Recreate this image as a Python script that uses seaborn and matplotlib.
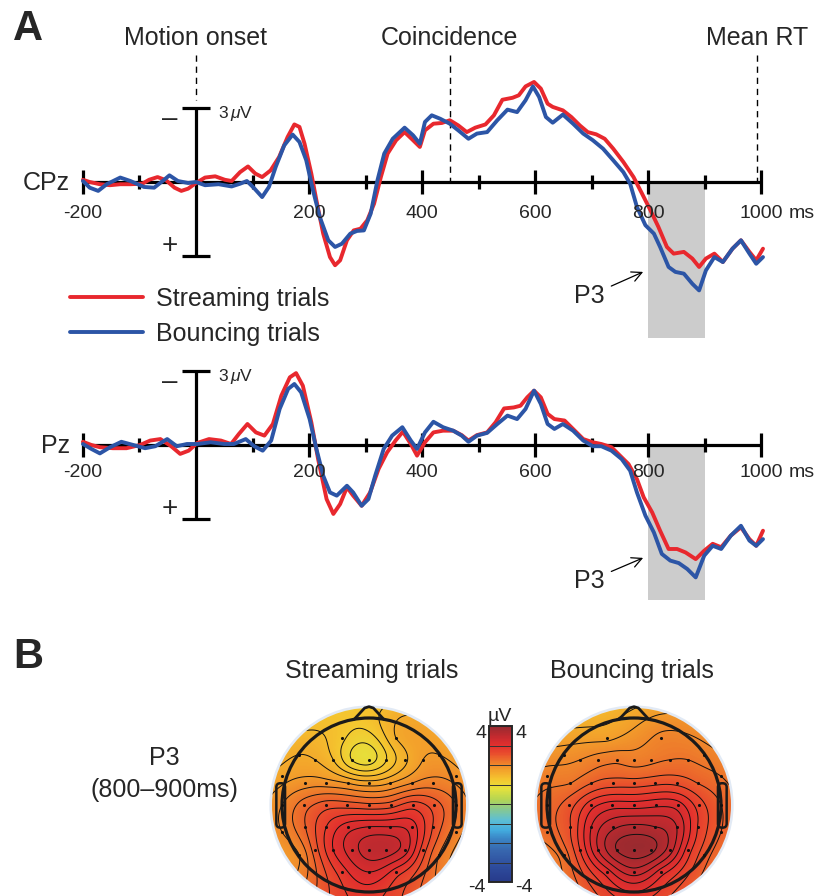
import numpy as np
import pandas as pd
import matplotlib.pyplot as plt
import seaborn as sns
from matplotlib.colors import LinearSegmentedColormap, Normalize
from matplotlib.cm import ScalarMappable
from matplotlib.patches import Circle, FancyBboxPatch

# ERP waveforms: time in ms, amplitude in uV (negative is drawn up)
cpz_stream_t = [-200, -188, -170, -152, -134, -116, -95, -83, -68, -53, -38, -26, -14, 0, 16, 34, 51, 63, 78, 92,
                105, 117, 132, 147, 162, 174, 183, 192, 204, 213, 225, 237, 246, 255, 267, 279, 291, 303, 315,
                327, 339, 354, 369, 384, 396, 405, 420, 435, 449, 464, 479, 494, 512, 527, 542, 560, 571, 583,
                598, 610, 622, 631, 649, 664, 679, 693, 708, 723, 738, 756, 774, 789, 804, 818, 833, 845, 863,
                878, 890, 902, 917, 932, 949, 964, 979, 991, 1003]
cpz_stream_v = [-0.09, 0, 0.09, 0.13, 0.09, 0.09, 0.07, -0.09, -0.2, -0.07, 0.23, 0.36, 0.27, 0.04, -0.18, -0.23,
                -0.09, -0.04, -0.4, -0.63, -0.34, -0.2, -0.47, -1.01, -1.82, -2.33, -2.23, -1.55, -0.34, 0.74,
                2.09, 3.04, 3.37, 3.17, 2.36, 1.96, 1.89, 1.55, 0.88, -0.2, -1.15, -1.69, -2.02, -1.69, -1.42,
                -2.09, -2.36, -2.39, -2.5, -2.29, -2.02, -2.2, -2.33, -2.7, -3.33, -3.41, -3.51, -3.87, -4.05,
                -3.78, -3.17, -3.04, -2.9, -2.63, -2.29, -2.02, -1.93, -1.75, -1.35, -0.81, -0.2, 0.47, 1.15,
                1.82, 2.63, 2.9, 2.83, 3.1, 3.44, 3.1, 2.9, 3.24, 2.7, 2.36, 2.83, 3.17, 2.7]
cpz_bounce_t = [-200, -188, -173, -158, -134, -116, -92, -74, -59, -47, -32, -14, 0, 16, 40, 63, 78, 90, 102, 117,
                129, 141, 156, 171, 183, 195, 207, 219, 234, 246, 258, 273, 285, 297, 309, 321, 333, 348, 369,
                384, 396, 405, 417, 432, 449, 464, 482, 497, 515, 533, 551, 568, 583, 596, 607, 619, 631, 649,
                667, 685, 702, 720, 738, 756, 768, 780, 795, 810, 821, 836, 848, 863, 878, 890, 902, 917, 932,
                949, 964, 979, 991, 1003]
cpz_bounce_v = [-0.04, 0.23, 0.36, 0.09, -0.18, -0.04, 0.2, 0.23, -0.04, -0.27, -0.04, 0.04, 0, 0.13, 0.09, 0.18,
                0.07, -0.04, 0.23, 0.61, 0.2, -0.61, -1.48, -1.92, -1.62, -0.88, 0.34, 1.42, 2.36, 2.63, 2.5,
                2.09, 1.98, 1.96, 1.28, -0.07, -1.15, -1.75, -2.2, -1.89, -1.55, -2.43, -2.7, -2.56, -2.36,
                -2.09, -1.75, -1.96, -2.02, -2.5, -2.93, -2.83, -3.31, -3.87, -3.44, -2.63, -2.4, -2.73, -2.36,
                -1.96, -1.69, -1.35, -0.88, -0.4, 0.07, 1.01, 1.75, 2.09, 2.63, 3.44, 3.64, 3.71, 4.12, 4.39,
                3.58, 3.04, 3.24, 2.7, 2.36, 2.9, 3.31, 3.04]
pz_stream_t = [-200, -185, -170, -147, -123, -99, -81, -63, -45, -28, -13, 2, 23, 44, 62, 76, 91, 106, 121, 136,
               151, 166, 177, 189, 204, 216, 231, 243, 255, 267, 278, 293, 308, 323, 338, 353, 366, 380, 391,
               405, 420, 437, 455, 470, 482, 497, 515, 530, 545, 562, 574, 586, 598, 610, 622, 634, 652, 667,
               685, 702, 717, 735, 750, 765, 780, 792, 807, 821, 836, 851, 866, 884, 899, 914, 929, 946, 964,
               979, 991, 1003]
pz_stream_v = [-0.13, 0, 0.09, 0.13, 0.13, 0, -0.18, -0.24, 0.03, 0.36, 0.23, -0.08, -0.24, -0.18, -0.04, -0.45,
               -0.85, -0.51, -0.38, -0.85, -2.0, -2.74, -2.91, -2.4, -0.92, 0.57, 2.19, 2.79, 2.39, 1.71, 2.05,
               2.46, 1.92, 0.97, 0.3, -0.18, -0.54, -0.04, 0.43, -0.11, -0.51, -0.58, -0.58, -0.4, -0.18, -0.4,
               -0.51, -0.92, -1.48, -1.52, -1.59, -1.93, -2.2, -1.93, -1.26, -1.05, -0.99, -0.65, -0.24, -0.11,
               -0.04, 0.09, 0.43, 0.77, 1.38, 2.12, 2.73, 3.47, 4.21, 4.21, 4.35, 4.62, 4.28, 4.0, 4.14, 3.67,
               3.33, 3.81, 4.08, 3.47]
pz_bounce_t = [-200, -185, -170, -152, -132, -111, -90, -72, -51, -34, -16, 2, 26, 50, 67, 88, 103, 118, 133, 148,
               163, 174, 186, 201, 213, 225, 237, 249, 258, 267, 278, 293, 305, 317, 332, 347, 365, 380, 391,
               405, 420, 437, 455, 470, 482, 497, 515, 533, 551, 568, 583, 598, 610, 622, 634, 649, 667, 685,
               702, 717, 735, 753, 768, 780, 795, 810, 824, 839, 854, 869, 884, 899, 914, 929, 946, 964, 979,
               991, 1003]
pz_bounce_v = [-0.04, 0.16, 0.34, 0.09, -0.13, 0, 0.13, 0.05, -0.24, 0.05, -0.04, -0.04, -0.11, -0.04, -0.04,
               -0.24, 0.05, 0.23, -0.18, -1.46, -2.27, -2.47, -2.13, -1.05, 0.16, 1.24, 1.92, 2.05, 1.85, 1.65,
               1.92, 2.46, 2.19, 1.24, 0.16, -0.38, -0.72, -0.18, 0.16, -0.51, -0.94, -0.72, -0.58, -0.38,
               -0.13, -0.38, -0.49, -0.85, -1.19, -1.05, -1.46, -2.2, -1.66, -0.85, -0.65, -0.85, -0.58, -0.18,
               0.05, 0.05, 0.23, 0.57, 1.04, 1.92, 2.86, 3.54, 4.41, 4.68, 4.78, 5.02, 5.36, 4.48, 4.08, 4.21,
               3.67, 3.27, 3.87, 4.08, 3.81]

conditions = ["Streaming trials", "Bouncing trials"]
major_ticks = [-200, 200, 400, 600, 800, 1000]
minor_ticks = [-100, 100, 300, 500, 700, 900]
events = ["Motion onset", "Coincidence", "Mean RT"]
event_ms = [0, 449, 992]

# electrode layout (x right, y towards nose) and mean P3 amplitude 800-900 ms, uV
elec_x = [-0.31, 0.31,
          -0.62, -0.41, -0.2, 0, 0.2, 0.41, 0.62,
          -0.73, -0.49, -0.24, 0, 0.24, 0.49, 0.73,
          -0.75, -0.5, -0.25, 0, 0.25, 0.5, 0.75,
          -0.73, -0.49, -0.24, 0, 0.24, 0.49, 0.73,
          -0.62, -0.41, -0.2, 0, 0.2, 0.41, 0.62,
          -0.31, 0, 0.31,
          -1.0, 1.0, -1.0, 1.0, -1.0, 1.0, -0.8, 0.8, -0.8, 0.8]
elec_y = [0.77, 0.77,
          0.52, 0.52, 0.52, 0.52, 0.52, 0.52, 0.52,
          0.25, 0.25, 0.25, 0.25, 0.25, 0.25, 0.25,
          0, 0, 0, 0, 0, 0, 0,
          -0.25, -0.25, -0.25, -0.25, -0.25, -0.25, -0.25,
          -0.52, -0.52, -0.52, -0.52, -0.52, -0.52, -0.52,
          -0.77, -0.77, -0.77,
          0.33, 0.33, 0, 0, -0.31, -0.31, 0.58, 0.58, -0.58, -0.58]
p3_stream = [1.25, 1.6,
             1.6, 1.4, 1.0, 0.9, 1.2, 1.55, 1.8,
             1.9, 1.9, 1.8, 1.7, 1.8, 2.0, 2.1,
             2.3, 2.5, 2.5, 2.45, 2.5, 2.7, 2.5,
             2.4, 2.8, 3.1, 3.2, 3.2, 3.1, 2.6,
             2.5, 3.0, 3.3, 3.5, 3.5, 3.3, 2.7,
             2.9, 3.2, 2.9,
             1.7, 1.9, 2.0, 2.2, 2.0, 2.1, 1.6, 1.8, 2.0, 2.2]
p3_bounce = [1.75, 2.05,
             2.0, 2.1, 2.15, 2.1, 2.15, 2.2, 2.2,
             2.2, 2.4, 2.5, 2.5, 2.55, 2.55, 2.4,
             2.5, 2.9, 3.1, 3.1, 3.15, 3.1, 2.7,
             2.6, 3.2, 3.55, 3.65, 3.6, 3.4, 2.8,
             2.8, 3.4, 3.8, 3.9, 3.85, 3.5, 2.9,
             3.1, 3.5, 3.1,
             2.1, 2.2, 2.3, 2.4, 2.3, 2.4, 1.9, 2.1, 2.3, 2.5]

RED = "#e8282e"
BLUE = "#2c55a6"

sns.set_style("white")
plt.rcParams["font.family"] = ["Liberation Sans", "DejaVu Sans"]
plt.rcParams["mathtext.fontset"] = "custom"
plt.rcParams["mathtext.rm"] = "Liberation Sans"
plt.rcParams["mathtext.it"] = "Liberation Sans:italic"

W, H = 816, 896
fig = plt.figure(figsize=(W / 100, H / 100), dpi=100)

# pixel geometry of panel A
X0, PX_MS, PX_UV = 196, 0.5653, 24.7


def px_axes(x0, y0, x1, y1):
    return fig.add_axes([x0 / W, 1 - y1 / H, (x1 - x0) / W, (y1 - y0) / H])


def ftext(x, y, s, **kw):
    fig.text(x / W, 1 - y / H, s, **kw)


def erp_frame(ts, vs, tb, vb):
    return pd.concat([pd.DataFrame({"time": ts, "amp": vs, "condition": conditions[0]}),
                      pd.DataFrame({"time": tb, "amp": vb, "condition": conditions[1]})])


def draw_erp(top, bottom, zero_y, df, name, lab_y, shade, p3_text, p3_tip, legend):
    ax = px_axes(0, top, W, bottom)
    k = dict(colors="k", lw=2.3)
    ax.fill_between([800, 900], 0, shade, color="#cccccc", lw=0, zorder=1)
    ax.hlines(0, -200, 1000, zorder=2, **k)
    ax.vlines(major_ticks, -0.49, 0.49, zorder=2, **k)
    ax.vlines(minor_ticks, -0.28, 0.28, zorder=2, **k)
    ax.vlines(0, -3, 3, zorder=2, **k)
    ax.hlines([-3, 3], -25, 25, zorder=2, **k)
    sns.lineplot(data=df, x="time", y="amp", hue="condition", hue_order=conditions,
                 palette=[RED, BLUE], linewidth=2.8, estimator=None, ax=ax, legend=legend, zorder=3)
    ax.set_xlim(-X0 / PX_MS, (W - X0) / PX_MS)
    ax.set_ylim((bottom - zero_y) / PX_UV, (top - zero_y) / PX_UV)   # negative up
    ax.axis("off")
    ax.text(-223, 0.33, name, ha="right", va="baseline", fontsize=18)
    for t in major_ticks[:-1]:
        ax.text(t, lab_y, str(t), ha="center", va="baseline", fontsize=14)
    ax.text(1000, lab_y, "1000", ha="center", va="baseline", fontsize=14)
    ax.text(1049, lab_y, "ms", ha="left", va="baseline", fontsize=14)
    ax.text(39, -2.6, r"3$\,\mu$V", ha="left", va="baseline", fontsize=12.5)
    ax.text(-46, -2.55, "\u2013", ha="center", va="center", fontsize=20)
    ax.text(-46, 2.6, "+", ha="center", va="center", fontsize=20)
    ax.annotate("P3", xy=p3_tip, xytext=p3_text, ha="center", va="baseline", fontsize=18,
                arrowprops=dict(arrowstyle="->", color="k", lw=0.9, shrinkA=3, shrinkB=0))
    return ax


# ---- panel A: CPz
ax1 = draw_erp(0, 345, 182, erp_frame(cpz_stream_t, cpz_stream_v, cpz_bounce_t, cpz_bounce_v),
               "CPz", 1.46, 6.32, (695, 4.9), (791, 3.64), True)
for lab, t in zip(events, event_ms):
    low = -3.3 if t == 0 else 0
    ax1.vlines(t, -5.14, low, colors="k", lw=1.0, linestyles=(0, (4.5, 3.5)), zorder=2)
    ax1.text(t, -5.55, lab, ha="center", va="baseline", fontsize=18)
sns.move_legend(ax1, "upper left", bbox_to_anchor=(70 / W, 1 - 287 / H), bbox_transform=fig.transFigure,
                frameon=False, title=None, fontsize=18, borderpad=0, borderaxespad=0,
                handlelength=2.9, handletextpad=0.55, labelspacing=0.45)

# ---- panel A: Pz
draw_erp(345, 640, 445, erp_frame(pz_stream_t, pz_stream_v, pz_bounce_t, pz_bounce_v),
         "Pz", 1.3, 6.28, (695, 5.79), (791, 4.57), False)

# ---- panel B: scalp maps
cmap = LinearSegmentedColormap.from_list("eeg", [
    (0.00, "#273a8a"), (0.10, "#2e4c9d"), (0.20, "#3766ae"), (0.28, "#3a86c6"), (0.33, "#42abde"),
    (0.40, "#5fbfd2"), (0.47, "#8ac98c"), (0.53, "#b5d552"), (0.60, "#e6e23c"), (0.66, "#f5c52f"),
    (0.72, "#f3a02b"), (0.77, "#ee7a2b"), (0.82, "#e9502d"), (0.875, "#e3302e"), (0.93, "#c62a2f"),
    (1.00, "#952a30")])

ex, ey = np.array(elec_x), np.array(elec_y)


def green(d):
    with np.errstate(divide="ignore", invalid="ignore"):
        g = d ** 2 * (np.log(d) - 1)
    return np.where(d > 0, g, 0.0)


def topo(ax, vals):
    # biharmonic spline (as in EEGLAB topoplot) over the electrode values
    d = np.hypot(ex[:, None] - ex[None, :], ey[:, None] - ey[None, :])
    w = np.linalg.solve(green(d), np.array(vals))
    g = np.linspace(-1.14, 1.14, 230)
    gx, gy = np.meshgrid(g, g)
    dg = np.hypot(gx[..., None] - ex, gy[..., None] - ey)
    z = green(dg) @ w

    ax.add_patch(Circle((0, 0), 1.145, fc="#e2eaf5", ec="none", zorder=0))
    disk = Circle((0, 0), 1.115, fc="none", ec="none", transform=ax.transData)
    ax.add_patch(disk)
    im = ax.imshow(z, extent=(-1.14, 1.14, -1.14, 1.14), origin="lower", cmap=cmap, vmin=-4, vmax=4,
                   interpolation="bilinear", zorder=1)
    im.set_clip_path(disk)
    cs = ax.contour(gx, gy, z, levels=np.arange(-4, 4.01, 0.2), colors="#111111", linewidths=0.7, zorder=2)
    cs.set_clip_path(disk)
    ax.add_patch(Circle((0, 0), 1.0, fc="none", ec="#1a1a1a", lw=2.3, zorder=4))
    ax.plot([-0.17, -0.05, 0, 0.05, 0.17], [0.985, 1.115, 1.13, 1.115, 0.985], color="#1a1a1a", lw=2.0,
            zorder=4, solid_joinstyle="round")
    for s in (-1, 1):
        x0 = -1.065 if s < 0 else 0.965
        ax.add_patch(FancyBboxPatch((x0, -0.26), 0.1, 0.51, boxstyle="round,pad=0,rounding_size=0.045",
                                    fc="none", ec="#1a1a1a", lw=1.8, zorder=4))
    ax.scatter(ex, ey, s=5, c="#111111", lw=0, zorder=5)
    ax.set_xlim(-1.2, 1.2)
    ax.set_ylim(-1.2, 1.2)
    ax.set_aspect("equal")
    ax.axis("off")


R = 87
for cx, vals in [(369, p3_stream), (634, p3_bounce)]:
    axm = px_axes(cx - 1.2 * R, 805 - 1.2 * R, cx + 1.2 * R, 805 + 1.2 * R)
    topo(axm, vals)

cax = px_axes(489, 726, 512, 882)
cb = fig.colorbar(ScalarMappable(Normalize(-4, 4), cmap), cax=cax, ticks=[])
cb.outline.set_linewidth(1.4)
for v in range(-3, 4):
    cax.axhline(v, color="#333333", lw=0.7)

ftext(486, 738, "4", ha="right", va="baseline", fontsize=14)
ftext(515, 738, "4", ha="left", va="baseline", fontsize=14)
ftext(486, 892, "-4", ha="right", va="baseline", fontsize=14)
ftext(515, 892, "-4", ha="left", va="baseline", fontsize=14)
ftext(500, 721, "\u00b5V", ha="center", va="baseline", fontsize=14)

ftext(372, 678, "Streaming trials", ha="center", va="baseline", fontsize=18)
ftext(632, 678, "Bouncing trials", ha="center", va="baseline", fontsize=18)
ftext(164, 765, "P3", ha="center", va="baseline", fontsize=18)
ftext(164, 797, "(800\u2013900ms)", ha="center", va="baseline", fontsize=18)

ftext(13, 40, "A", ha="left", va="baseline", fontsize=30, fontweight="bold")
ftext(13, 668, "B", ha="left", va="baseline", fontsize=30, fontweight="bold")

fig.savefig("out.png", dpi=100)
